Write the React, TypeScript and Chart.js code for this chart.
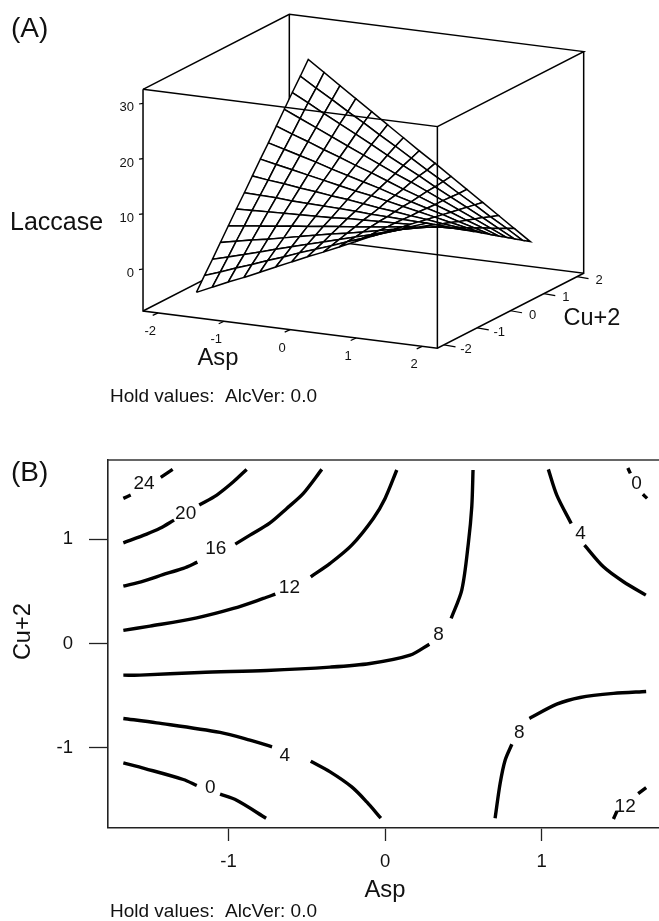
import { useEffect, useRef } from "react";
import { Chart, registerables } from "chart.js";

Chart.register(...registerables);

const FONT = '"Liberation Sans", Arial, sans-serif';
const INK = "#111";

// ---------- Panel A: surface ----------
const aspGrid = [-1.682, -1.442, -1.201, -0.961, -0.721, -0.481, -0.24, 0, 0.24, 0.481, 0.721, 0.961, 1.201, 1.442, 1.682];
const cuGrid = [-1.682, -1.442, -1.201, -0.961, -0.721, -0.481, -0.24, 0, 0.24, 0.481, 0.721, 0.961, 1.201, 1.442, 1.682];
// rows: Cu+2 from low to high; columns: Asp from low to high
const laccase = [
  [-5.0, -3.7, -2.4, -1.2, 0.1, 1.4, 2.7, 4.0, 5.2, 6.5, 7.8, 9.1, 10.3, 11.6, 12.9],
  [-2.7, -1.7, -0.6, 0.4, 1.5, 2.5, 3.6, 4.6, 5.6, 6.7, 7.7, 8.8, 9.8, 10.9, 11.9],
  [-0.5, 0.3, 1.1, 1.9, 2.8, 3.6, 4.4, 5.2, 6.0, 6.8, 7.6, 8.5, 9.3, 10.1, 10.9],
  [1.8, 2.4, 3.0, 3.5, 4.1, 4.7, 5.3, 5.9, 6.4, 7.0, 7.6, 8.2, 8.7, 9.3, 9.9],
  [4.1, 4.4, 4.8, 5.1, 5.5, 5.8, 6.2, 6.5, 6.8, 7.2, 7.5, 7.9, 8.2, 8.6, 8.9],
  [6.4, 6.5, 6.6, 6.7, 6.8, 6.9, 7.0, 7.2, 7.3, 7.4, 7.5, 7.6, 7.7, 7.8, 7.9],
  [8.6, 8.5, 8.4, 8.2, 8.1, 8.0, 7.9, 7.8, 7.6, 7.5, 7.4, 7.3, 7.1, 7.0, 6.9],
  [10.9, 10.5, 10.2, 9.8, 9.5, 9.1, 8.8, 8.4, 8.0, 7.7, 7.3, 7.0, 6.6, 6.3, 5.9],
  [13.2, 12.6, 12.0, 11.4, 10.8, 10.2, 9.6, 9.1, 8.5, 7.9, 7.3, 6.7, 6.1, 5.5, 4.9],
  [15.4, 14.6, 13.8, 13.0, 12.1, 11.3, 10.5, 9.7, 8.8, 8.0, 7.2, 6.4, 5.5, 4.7, 3.9],
  [17.7, 16.6, 15.6, 14.5, 13.5, 12.4, 11.4, 10.3, 9.2, 8.2, 7.1, 6.1, 5.0, 4.0, 2.9],
  [20.0, 18.7, 17.4, 16.1, 14.8, 13.5, 12.2, 10.9, 9.7, 8.4, 7.1, 5.8, 4.5, 3.2, 1.9],
  [22.3, 20.8, 19.2, 17.7, 16.2, 14.7, 13.1, 11.6, 10.1, 8.5, 7.0, 5.5, 4.0, 2.4, 0.9],
  [24.5, 22.7, 21.0, 19.2, 17.5, 15.7, 14.0, 12.2, 10.4, 8.7, 6.9, 5.2, 3.4, 1.7, -0.1],
  [26.8, 24.8, 22.8, 20.8, 18.8, 16.8, 14.8, 12.8, 10.9, 8.9, 6.9, 4.9, 2.9, 0.9, -1.1],
];
const aspBox = [-2.23, 2.23];
const cuBox = [-2.2, 2.2];
const zBox = [-7.6, 32.55];
const surfaceAspTicks = [-2, -1, 0, 1, 2];
const surfaceCuTicks = [-2, -1, 0, 1, 2];
const surfaceZTicks = [0, 10, 20, 30];

// ---------- Panel B: contours (Asp, Cu+2); one list per unbroken run ----------
const c24a = [[-1.672, 1.392], [-1.625, 1.424]];
const c24b = [[-1.433, 1.594], [-1.357, 1.67]];
const c20a = [[-1.672, 0.966], [-1.523, 1.05], [-1.438, 1.105], [-1.348, 1.184]];
const c20b = [[-1.187, 1.328], [-1.075, 1.424], [-0.969, 1.551], [-0.884, 1.67]];
const c16a = [[-1.672, 0.551], [-1.544, 0.599], [-1.395, 0.673], [-1.289, 0.721], [-1.199, 0.781]];
const c16b = [[-0.957, 0.954], [-0.863, 1.04], [-0.735, 1.158], [-0.628, 1.296], [-0.522, 1.44], [-0.404, 1.67]];
const c12a = [[-1.672, 0.127], [-1.502, 0.168], [-1.203, 0.247], [-0.969, 0.337], [-0.778, 0.433], [-0.701, 0.475]];
const c12b = [[-0.475, 0.64], [-0.351, 0.769], [-0.213, 0.944], [-0.075, 1.2], [0, 1.392], [0.075, 1.664]];
const c8a = [[-1.672, -0.302], [-1.566, -0.302], [-1.182, -0.276], [-0.756, -0.257], [-0.351, -0.225], [-0.096, -0.19], [0.16, -0.11], [0.283, -0.005]];
const c8b = [[0.422, 0.242], [0.49, 0.513], [0.532, 0.961], [0.554, 1.312], [0.562, 1.664]];
const c4a = [[1.043, 1.67], [1.097, 1.424], [1.189, 1.152]];
const c4b = [[1.274, 0.944], [1.395, 0.736], [1.523, 0.593], [1.666, 0.465]];
const c0a = [[1.551, 1.683], [1.567, 1.632]];
const c0b = [[1.647, 1.431], [1.674, 1.392]];
const c4c = [[-1.672, -0.717], [-1.459, -0.759], [-1.054, -0.851], [-0.863, -0.925], [-0.722, -0.989]];
const c4d = [[-0.475, -1.127], [-0.351, -1.229], [-0.213, -1.373], [-0.117, -1.517], [-0.027, -1.673]];
const c0c = [[-1.672, -1.143], [-1.534, -1.197], [-1.289, -1.302], [-1.203, -1.36]];
const c0d = [[-1.054, -1.443], [-0.948, -1.501], [-0.76, -1.673]];
const c8c = [[0.703, -1.673], [0.735, -1.34], [0.767, -1.117], [0.81, -0.964]];
const c8d = [[0.922, -0.717], [1.097, -0.58], [1.246, -0.516], [1.459, -0.477], [1.668, -0.458]];
const c12c = [[1.459, -1.68], [1.481, -1.606]];
const c12d = [[1.617, -1.437], [1.668, -1.379]];
const contourRuns = [c24a, c24b, c20a, c20b, c16a, c16b, c12a, c12b, c8a, c8b, c4a, c4b, c0a, c0b, c4c, c4d, c0c, c0d, c8c, c8d, c12c, c12d];

const contourLabels = ["24", "20", "16", "12", "8", "4", "0", "4", "0", "8", "12"];
const contourLabelAsp = [-1.54, -1.274, -1.082, -0.611, 0.341, 1.248, 1.606, -0.641, -1.116, 0.858, 1.534];
const contourLabelCu = [1.542, 1.254, 0.919, 0.545, 0.098, 1.066, 1.542, -1.069, -1.373, -0.846, -1.555];

const holdText = "Hold values:  AlcVer: 0.0";

// view projection of the surface box on the page
function project(a: number, c: number, z: number) {
  return {
    x: 363.35 + 66 * a + 33.25 * c,
    y: 292.1 + 8.36 * a - 17.05 * c - 5.52 * (z - zBox[0]),
  };
}

function text(
  ctx: CanvasRenderingContext2D,
  s: string,
  x: number,
  y: number,
  size: number,
  align: CanvasTextAlign = "left",
  baseline: CanvasTextBaseline = "alphabetic",
) {
  ctx.font = `${size}px ${FONT}`;
  ctx.textAlign = align;
  ctx.textBaseline = baseline;
  ctx.fillStyle = INK;
  ctx.fillText(s, x, y);
}

function seg(points: { x: number; y: number }[], extra: object = {}) {
  return {
    data: points,
    showLine: true,
    borderColor: "#000",
    borderWidth: 1.5,
    pointRadius: 0,
    tension: 0,
    ...extra,
  };
}

function surfaceDatasets() {
  const [a0, a1] = aspBox;
  const [c0, c1] = cuBox;
  const [z0, z1] = zBox;
  const sets: any[] = [];
  // edges behind the surface
  sets.push(seg([project(a0, c0, z1), project(a0, c1, z1), project(a1, c1, z1), project(a1, c0, z1)]));
  sets.push(seg([project(a0, c1, z1), project(a0, c1, z0)]));
  sets.push(seg([project(a0, c0, z0), project(a0, c1, z0), project(a1, c1, z0), project(a1, c1, z1)]));
  sets.push(seg([project(a0, c0, z1), project(a0, c0, z0), project(a1, c0, z0), project(a1, c1, z0)]));
  // surface cells, far to near
  for (let j = cuGrid.length - 2; j >= 0; j--) {
    for (let i = 0; i < aspGrid.length - 1; i++) {
      const p = [
        project(aspGrid[i], cuGrid[j], laccase[j][i]),
        project(aspGrid[i + 1], cuGrid[j], laccase[j][i + 1]),
        project(aspGrid[i + 1], cuGrid[j + 1], laccase[j + 1][i + 1]),
        project(aspGrid[i], cuGrid[j + 1], laccase[j + 1][i]),
      ];
      sets.push(seg([...p, p[0]], { cellFill: true }));
    }
  }
  // edges in front of the surface
  sets.push(seg([project(a0, c0, z1), project(a1, c0, z1), project(a1, c0, z0)]));
  // tick marks
  for (const a of surfaceAspTicks) {
    const p = project(a, c0, z0);
    sets.push(seg([p, { x: p.x - 5.5, y: p.y + 2.5 }], { borderWidth: 1.2 }));
  }
  for (const c of surfaceCuTicks) {
    const p = project(a1, c, z0);
    sets.push(seg([p, { x: p.x + 11.5, y: p.y + 2 }], { borderWidth: 1.2 }));
  }
  for (const z of surfaceZTicks) {
    const p = project(a0, c0, z);
    sets.push(seg([p, { x: p.x - 4, y: p.y + 0.6 }], { borderWidth: 1.2 }));
  }
  return sets.reverse(); // Chart.js paints the first dataset last
}

const cellFillPlugin = {
  id: "cellFill",
  beforeDatasetDraw(chart: any, args: any) {
    const ds = chart.data.datasets[args.index];
    if (!ds.cellFill) return;
    const pts = args.meta.data;
    const ctx = chart.ctx;
    ctx.save();
    ctx.beginPath();
    pts.forEach((p: any, i: number) => (i ? ctx.lineTo(p.x, p.y) : ctx.moveTo(p.x, p.y)));
    ctx.closePath();
    ctx.fillStyle = "#fff";
    ctx.fill();
    ctx.restore();
  },
};

const surfaceTextPlugin = {
  id: "surfaceText",
  afterDraw(chart: any) {
    const ctx = chart.ctx;
    ctx.save();
    text(ctx, "(A)", 11, 36.5, 28);
    text(ctx, "Laccase", 10, 229.5, 25);
    text(ctx, "Asp", 197.5, 365, 23.8);
    text(ctx, "Cu+2", 563.5, 325, 23.5);
    text(ctx, holdText, 110, 401.5, 19);
    const sx = chart.scales.x;
    const sy = chart.scales.y;
    for (const a of surfaceAspTicks) {
      const p = project(a, cuBox[0], zBox[0]);
      text(ctx, String(a), sx.getPixelForValue(p.x) - 8, sy.getPixelForValue(p.y) + 18.5, 13, "center", "middle");
    }
    for (const c of surfaceCuTicks) {
      const p = project(aspBox[1], c, zBox[0]);
      text(ctx, String(c), sx.getPixelForValue(p.x) + 22, sy.getPixelForValue(p.y) + 4.2, 13, "center", "middle");
    }
    for (const z of surfaceZTicks) {
      const p = project(aspBox[0], cuBox[0], z);
      text(ctx, String(z), sx.getPixelForValue(p.x) - 9, sy.getPixelForValue(p.y) + 4.5, 13, "right", "middle");
    }
    ctx.restore();
  },
};

const contourTextPlugin = {
  id: "contourText",
  afterDraw(chart: any) {
    const ctx = chart.ctx;
    const { x, y } = chart.scales;
    const area = chart.chartArea;
    ctx.save();
    ctx.strokeStyle = "#333";
    ctx.lineWidth = 1.5;
    ctx.beginPath();
    ctx.moveTo(area.left, area.top);
    ctx.lineTo(area.right, area.top);
    ctx.stroke();
    contourLabels.forEach((s, i) => {
      text(ctx, s, x.getPixelForValue(contourLabelAsp[i]), y.getPixelForValue(contourLabelCu[i]) + 1, 19, "center", "middle");
    });
    text(ctx, "(B)", 11, 50.5, 28);
    text(ctx, "Asp", 385, 466.7, 23.8, "center");
    text(ctx, holdText, 110, 487.3, 19);
    ctx.translate(30, 201.7);
    ctx.rotate(-Math.PI / 2);
    text(ctx, "Cu+2", 0, 0, 23.5, "center");
    ctx.restore();
  },
};

export default function App() {
  const surfaceRef = useRef<HTMLCanvasElement>(null);
  const contourRef = useRef<HTMLCanvasElement>(null);

  useEffect(() => {
    const surface = new Chart(surfaceRef.current as HTMLCanvasElement, {
      type: "scatter",
      data: { datasets: surfaceDatasets() },
      plugins: [cellFillPlugin, surfaceTextPlugin],
      options: {
        animation: false,
        responsive: false,
        devicePixelRatio: 1,
        layout: { padding: 0 },
        plugins: { legend: { display: false }, tooltip: { enabled: false } },
        scales: {
          x: { type: "linear", min: 0, max: 659, display: false },
          y: { type: "linear", min: 0, max: 430, reverse: true, display: false },
        },
      },
    } as any);

    const axisTicks = {
      color: INK,
      font: { family: FONT, size: 18.5 },
      stepSize: 1,
      includeBounds: false,
      autoSkip: false,
      maxRotation: 0,
    };
    const contour = new Chart(contourRef.current as HTMLCanvasElement, {
      type: "scatter",
      data: {
        datasets: contourRuns.map((run) => ({
          data: run.map(([x, y]) => ({ x, y })),
          showLine: true,
          borderColor: "#000",
          borderWidth: 3.4,
          borderJoinStyle: "round",
          pointRadius: 0,
          tension: 0.3,
        })),
      },
      plugins: [contourTextPlugin],
      options: {
        animation: false,
        responsive: false,
        devicePixelRatio: 1,
        layout: { padding: { left: 0, right: 0, top: 30, bottom: 33.5 } },
        plugins: { legend: { display: false }, tooltip: { enabled: false } },
        scales: {
          x: {
            type: "linear",
            min: -1.77,
            max: 1.75,
            afterFit: (s: any) => {
              s.height = 60;
            },
            border: { display: true, color: "#222", width: 1.6 },
            grid: { drawOnChartArea: false, drawTicks: true, tickLength: 13.5, tickColor: "#222", tickWidth: 1.3 },
            ticks: { ...axisTicks, padding: 10 },
          },
          y: {
            type: "linear",
            min: -1.762,
            max: 1.76,
            afterFit: (s: any) => {
              s.width = 108;
            },
            border: { display: true, color: "#222", width: 1.6 },
            grid: { drawOnChartArea: false, drawTicks: true, tickLength: 19, tickColor: "#222", tickWidth: 1.3 },
            ticks: { ...axisTicks, padding: 16 },
          },
        },
      },
    } as any);

    return () => {
      surface.destroy();
      contour.destroy();
    };
  }, []);

  return (
    <div style={{ position: "fixed", left: 0, top: 0, width: 659, height: 921, overflow: "hidden", background: "#fff" }}>
      <canvas ref={surfaceRef} width={659} height={430} style={{ position: "absolute", left: 0, top: 0 }} />
      <canvas ref={contourRef} width={659} height={491} style={{ position: "absolute", left: 0, top: 430 }} />
    </div>
  );
}
